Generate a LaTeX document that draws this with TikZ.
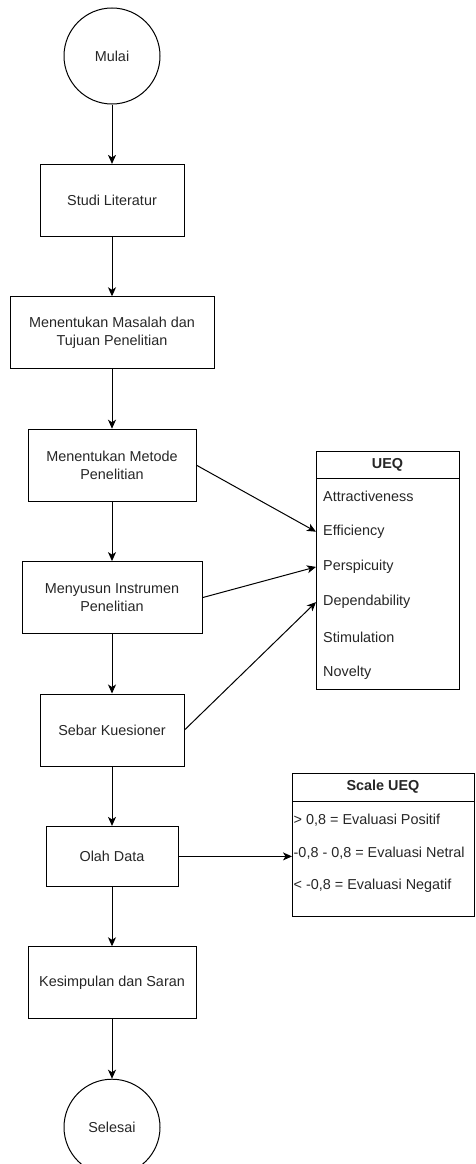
\documentclass[tikz,border=0pt]{standalone}
\usepackage{fontspec}
\setmainfont{Liberation Sans}
\usetikzlibrary{arrows.meta, positioning, calc}

\begin{document}
\begin{tikzpicture}[x=1pt, y=-1pt,
        base/.style={draw, line width=1pt, align=center, inner sep=0pt, text=black!85,
                     font=\fontsize{14.4}{17.3}\selectfont},
        terminal/.style={base, circle, minimum size=96pt},
        process/.style={base, rectangle, minimum width=144pt, minimum height=72pt},
        list head/.style={base, outer sep=0pt, font=\fontsize{14.4}{17.3}\selectfont\bfseries},
        list body/.style={draw, line width=1pt, outer sep=0pt, inner sep=0pt},
        list item/.style={anchor=west, inner xsep=7pt, inner ysep=0pt, text=black!85,
                          font=\fontsize{14.4}{17.3}\selectfont},
        flow/.style={-{Stealth[length=9pt, width=8pt, inset=2.5pt]}, line width=1pt},
        node distance=59.4pt]

    \useasboundingbox (0,0) rectangle (475,1164);

    % Main flow
    \node[terminal] (mulai) at (112,56) {Mulai};
    \node[process, below=of mulai] (studi) {Studi Literatur};
    \node[process, below=of studi, minimum width=204pt] (masalah) {Menentukan Masalah dan\\Tujuan Penelitian};
    \node[process, below=of masalah, minimum width=168pt] (metode) {Menentukan Metode\\Penelitian};
    \node[process, below=of metode, minimum width=180pt] (instrumen) {Menyusun Instrumen\\Penelitian};
    \node[process, below=of instrumen] (sebar) {Sebar Kuesioner};
    \node[process, below=of sebar, minimum width=132pt, minimum height=60pt] (olah) {Olah Data};
    \node[process, below=of olah, minimum width=168pt] (kesimpulan) {Kesimpulan dan Saran};
    \node[terminal, below=of kesimpulan] (selesai) {Selesai};

    \foreach \from/\to in {mulai/studi, studi/masalah, masalah/metode, metode/instrumen,
                           instrumen/sebar, sebar/olah, olah/kesimpulan, kesimpulan/selesai} {
        \draw[flow] (\from) -- (\to);
    }

    % UEQ list
    \node[list head, minimum width=143pt, minimum height=27pt] (ueq) at (387.5,464.5) {UEQ};
    \node[list body, minimum width=143pt, minimum height=211pt, below=0pt of ueq] (ueqbody) {};
    \foreach \name [count=\i] in {Attractiveness, Efficiency, Perspicuity, Dependability, Stimulation, Novelty} {
        \node[list item] (ueq-\i) at ($(ueqbody.north west)+(0,{18.5+35.2*(\i-1)})$) {\name};
    }

    \draw[flow] (metode.east) -- (ueq-2.west);
    \draw[flow] (instrumen.east) -- (ueq-3.west);
    \draw[flow] (sebar.east) -- (ueq-4.west);

    % Scale UEQ list
    \node[list head, minimum width=182pt, minimum height=28pt] (scale) at (383,787) {Scale UEQ};
    \node[list body, minimum width=182pt, minimum height=115pt, below=0pt of scale] (scalebody) {};
    \foreach \name [count=\i] in {{> 0,8 = Evaluasi Positif}, {-0,8 - 0,8 = Evaluasi Netral}, {< -0,8 = Evaluasi Negatif}} {
        \node[list item, inner xsep=1.5pt] (scale-\i) at ($(scalebody.north west)+(0,{19+33*(\i-1)})$) {\name};
    }

    \draw[flow] (olah.east) -- (olah.east -| scalebody.west);
\end{tikzpicture}
\end{document}
